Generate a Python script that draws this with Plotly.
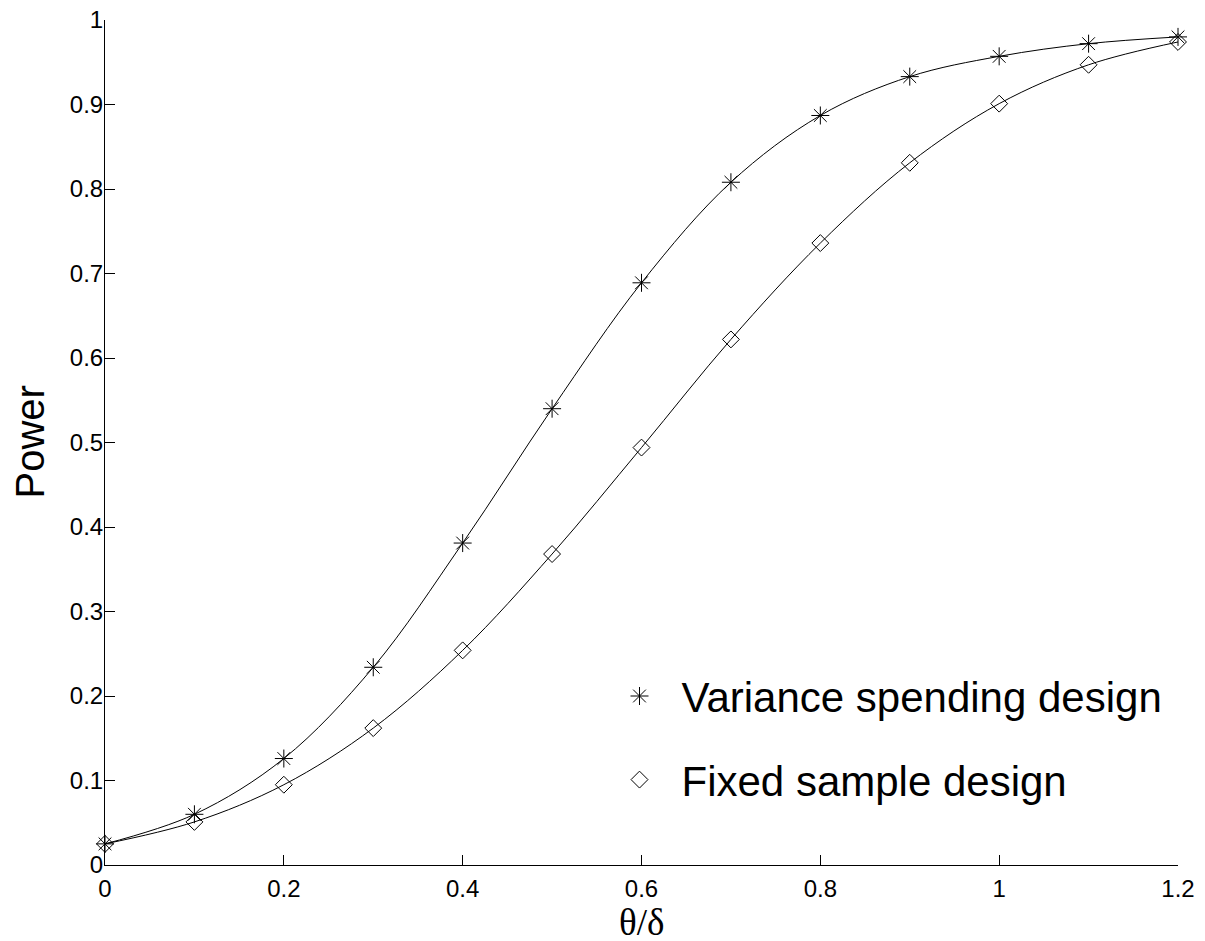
import plotly.graph_objects as go

theta = [0, 0.1, 0.2, 0.3, 0.4, 0.5, 0.6, 0.7, 0.8, 0.9, 1.0, 1.1, 1.2]
variance_spending = [0.025, 0.060, 0.126, 0.234, 0.381, 0.540, 0.689, 0.808, 0.887, 0.933, 0.957, 0.972, 0.980]
fixed_sample = [0.025, 0.051, 0.095, 0.162, 0.254, 0.368, 0.494, 0.622, 0.736, 0.831, 0.901, 0.947, 0.974]

x_ticks = [0, 0.2, 0.4, 0.6, 0.8, 1.0, 1.2]
x_labels = ["0", "0.2", "0.4", "0.6", "0.8", "1", "1.2"]
y_ticks = [0, 0.1, 0.2, 0.3, 0.4, 0.5, 0.6, 0.7, 0.8, 0.9, 1.0]
y_labels = ["0", "0.1", "0.2", "0.3", "0.4", "0.5", "0.6", "0.7", "0.8", "0.9", "1"]

names = ["Variance spending design", "Fixed sample design"]
x_title = "θ/δ"
y_title = "Power"

fig = go.Figure()

for ys in (variance_spending, fixed_sample):
    fig.add_trace(go.Scatter(
        x=theta, y=ys, mode="lines", line=dict(color="black", width=1, shape="spline"),
        showlegend=False, hoverinfo="skip", cliponaxis=False))

fig.add_trace(go.Scatter(
    x=theta, y=variance_spending, mode="markers", name=names[0], legendgroup="a",
    marker=dict(symbol="asterisk-open", size=15, color="black", line=dict(color="black", width=1)),
    cliponaxis=False))
fig.add_trace(go.Scatter(
    x=theta, y=fixed_sample, mode="markers", name=names[1], legendgroup="b",
    marker=dict(symbol="diamond-open", size=13, color="black", line=dict(color="black", width=1)),
    cliponaxis=False))

fig.update_layout(
    width=1205, height=941,
    margin=dict(l=105, r=27, t=20, b=76),
    paper_bgcolor="white", plot_bgcolor="white",
    font=dict(family="Liberation Sans, Arial, sans-serif", color="black"),
    showlegend=True,
    legend=dict(
        x=0.459, y=0.240, xanchor="left", yanchor="top",
        font=dict(size=42, family="Liberation Sans, Arial, sans-serif"),
        bgcolor="rgba(0,0,0,0)", itemwidth=74, traceorder="grouped", tracegroupgap=26,
    ),
    xaxis=dict(
        range=[0, 1.2], tickvals=x_ticks, ticktext=x_labels, automargin=False,
        ticks="inside", ticklen=10, tickwidth=1, tickcolor="black",
        showline=True, linecolor="black", linewidth=1, showgrid=False, zeroline=False,
        tickfont=dict(size=24, family="Liberation Sans, Arial, sans-serif"), ticklabelstandoff=2,
    ),
    yaxis=dict(
        range=[0, 1], tickvals=y_ticks, ticktext=y_labels, automargin=False,
        ticks="inside", ticklen=10, tickwidth=1, tickcolor="black",
        showline=True, linecolor="black", linewidth=1, showgrid=False, zeroline=False,
        tickfont=dict(size=24, family="Liberation Sans, Arial, sans-serif"), ticklabelstandoff=-4,
    ),
    annotations=[
        dict(text=x_title, xref="paper", yref="paper", x=0.5, y=0, xanchor="center", yanchor="top",
             yshift=-35, showarrow=False,
             font=dict(size=37, family="Liberation Serif, Times New Roman, serif", color="black")),
        dict(text=y_title, xref="paper", yref="paper", x=0, y=0.5, xanchor="center", yanchor="middle",
             xshift=-76, textangle=-90, showarrow=False,
             font=dict(size=40, family="Liberation Sans, Arial, sans-serif", color="black")),
    ],
)

fig.write_html("out.html")
